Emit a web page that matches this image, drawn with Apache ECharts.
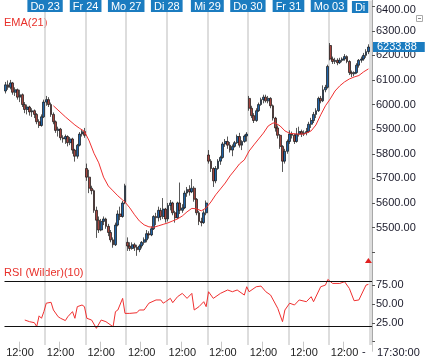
<!DOCTYPE html>
<html><head><meta charset="utf-8">
<script src="https://cdn.jsdelivr.net/npm/echarts@6/dist/echarts.min.js"></script>
<style>html,body{margin:0;padding:0;background:#fff}#c{width:425px;height:359px}</style>
</head><body><div id="c"></div>
<script>
const dayLabels = ['Mi 22','Do 23','Fr 24','Mo 27','Di 28','Mi 29','Do 30','Fr 31','Mo 03','Di'];
const barTimes = ['09:00','09:30','10:00','10:30','11:00','11:30','12:00','12:30','13:00','13:30','14:00','14:30','15:00','15:30','16:00','16:30','17:00'];
const priceTicks = [5400,5500,5600,5700,5800,5900,6000,6100,6200,6300,6400];
const priceLabels = [5500,5600,5700,5800,5900,6000,6100,6200,6300,6400];
const rsiTicks = [0,25,50,75];
const rsiLabels = [25,50,75];
const rsiBands = [80,20];
const lastPrice = 6233.88;
const lastTime = '17:30:00';

// [open, close, low, high]
const ohlc = [
 [6055,6080,6045,6092],[6080,6070,6060,6098],[6070,6088,6062,6100],[6088,6050,6040,6092],[6050,6060,6035,6070],
 [6060,6030,6020,6065],[6030,6040,6010,6060],[6040,6000,5990,6045],[6000,5980,5965,6010],[5980,5990,5960,6000],
 [5990,5970,5955,5995],[5970,5975,5950,5985],[5975,5960,5945,5980],[5960,5930,5920,5965],[5930,5915,5905,5940],
 [5915,5950,5910,5960],[5950,6010,5945,6020],
 [6010,6020,5995,6035],[6020,6000,5990,6030],[6000,5960,5950,6008],[5960,5930,5920,5968],[5930,5895,5885,5935],
 [5895,5900,5870,5910],[5900,5865,5855,5905],[5865,5860,5845,5875],[5860,5870,5840,5878],[5870,5845,5830,5875],
 [5845,5860,5835,5868],[5860,5815,5800,5865],[5815,5790,5768,5820],[5790,5835,5780,5840],[5835,5880,5830,5888],
 [5880,5890,5870,5898],[5890,5875,5865,5905],
 [5740,5705,5690,5760],[5705,5660,5640,5735],[5660,5650,5635,5670],[5650,5570,5560,5655],[5570,5530,5458,5585],
 [5530,5490,5478,5545],[5490,5525,5485,5535],[5525,5535,5510,5545],[5535,5505,5495,5540],[5505,5480,5465,5515],
 [5480,5450,5440,5490],[5450,5430,5418,5460],[5430,5510,5425,5520],[5510,5555,5505,5570],[5555,5545,5530,5585],
 [5545,5600,5540,5608],[5600,5670,5595,5678],
 [5440,5425,5405,5460],[5425,5415,5405,5440],[5415,5430,5410,5440],[5430,5420,5405,5438],[5420,5410,5385,5430],
 [5410,5425,5400,5432],[5425,5440,5415,5445],[5440,5450,5430,5460],[5450,5475,5440,5490],[5475,5470,5455,5485],
 [5470,5495,5465,5505],[5495,5545,5490,5550],[5545,5540,5510,5560],[5540,5570,5525,5585],[5570,5545,5530,5580],
 [5545,5575,5535,5620],[5575,5535,5520,5580],
 [5535,5590,5525,5600],[5590,5600,5570,5612],[5600,5560,5550,5605],[5560,5540,5520,5568],[5540,5600,5535,5605],
 [5600,5570,5555,5683],[5570,5580,5560,5595],[5580,5640,5575,5650],[5640,5655,5625,5665],[5655,5645,5630,5672],
 [5645,5660,5640,5697],[5660,5615,5605,5668],[5615,5560,5550,5620],[5560,5525,5510,5568],[5525,5520,5505,5540],
 [5520,5560,5515,5570],[5560,5600,5550,5610],
 [5795,5770,5760,5815],[5770,5740,5726,5778],[5740,5690,5665,5745],[5690,5740,5680,5750],[5740,5770,5735,5778],
 [5770,5785,5755,5792],[5785,5840,5780,5848],[5840,5850,5828,5860],[5850,5835,5820,5870],[5835,5815,5805,5848],
 [5815,5830,5790,5838],[5830,5845,5825,5852],[5845,5870,5840,5878],[5870,5835,5825,5885],[5835,5850,5815,5855],
 [5850,5872,5845,5878],[5872,5880,5850,5888],
 [6025,5985,5975,6035],[5985,5955,5945,5995],[5955,5935,5925,5965],[5935,5975,5930,5985],[5975,6000,5970,6008],
 [6000,6020,5995,6028],[6020,6030,6005,6040],[6030,6015,6008,6040],[6015,6025,6005,6035],[6025,5995,5985,6030],
 [5995,5945,5935,6000],[5945,5905,5890,5950],[5905,5875,5862,5915],[5875,5830,5820,5880],[5830,5770,5726,5835],
 [5770,5810,5760,5820],[5810,5850,5800,5858],
 [5850,5880,5840,5895],[5880,5875,5862,5890],[5875,5850,5840,5882],[5850,5880,5845,5905],[5880,5890,5870,5910],
 [5890,5880,5868,5898],[5880,5885,5872,5895],[5885,5890,5875,5905],[5890,5920,5885,5930],[5920,5935,5905,5946],
 [5935,5960,5925,5970],[5960,5975,5945,5985],[5975,6025,5970,6032],[6025,6015,6005,6035],[6015,6060,6010,6078],
 [6060,6070,6050,6080],[6070,6155,6065,6162],
 [6240,6185,6180,6250],[6185,6175,6165,6195],[6175,6180,6165,6190],[6180,6170,6160,6188],[6170,6180,6165,6190],
 [6180,6185,6172,6192],[6185,6195,6178,6205],[6195,6175,6168,6200],[6175,6130,6120,6180],[6130,6125,6112,6138],
 [6125,6130,6115,6135],[6130,6160,6125,6168],[6160,6180,6150,6185],[6180,6185,6170,6195],[6185,6200,6178,6210],
 [6200,6215,6190,6225],[6215,6233.88,6205,6245]
];

// [bar index, EMA(21)]
const ema = [
 [20,5995],[25,5950],[29,5917],[31,5903],[33,5891],[35,5852],[37,5802],[39,5763],[41,5705],[43,5669],
 [45,5649],[47,5629],[49,5612],[50,5604],[52,5580],[54,5552],[56,5527],[58,5511],[60,5503],[62,5501],
 [64,5507],[66,5513],[68,5519],[70,5527],[72,5535],[74,5547],[76,5564],[78,5578],[80,5576],[82,5568],
 [84,5580],[86,5604],[88,5633],[90,5657],[92,5681],[94,5710],[96,5734],[98,5759],[100,5775],[102,5811],
 [104,5836],[106,5860],[108,5884],[110,5913],[112,5925],[113,5925],[115,5913],[117,5893],[119,5883],[122,5880],
 [125,5880],[128,5893],[130,5917],[132,5958],[134,5995],[136,6023],[138,6055],[140,6076],[142,6092],[144,6104],
 [146,6112],[148,6118],[150,6133],[152,6145]
];

// [bar index, RSI (Wilder)(10)]
const rsi = [
 [8,28.7],[10,26.5],[12,25.2],[13,20],[14,34.2],[15,31],[16,39.8],[17,51],[19,52.2],[20,42],
 [22,33],[23,31],[25,28],[26,33],[28,39.8],[29,31],[30,46.4],[32,48.6],[33,46.4],[34,31],
 [36,28.7],[38,17.7],[40,28.7],[42,26.5],[45,19.8],[46,39.8],[47,42],[49,57.4],[50,37.5],[52,37.5],
 [55,38.4],[56,42],[58,42],[60,51],[63,55.3],[65,55.3],[66,51],[67,53],[69,57.4],[70,51.7],
 [72,59.6],[74,64],[76,57.4],[78,64],[79,42],[81,46.4],[83,53],[84,46.4],[85,66.2],[87,57.4],
 [90,64],[93,68.5],[95,66.2],[97,68.5],[100,61.8],[101,72.8],[102,66.2],[105,72.8],[107,73.7],[109,66.2],
 [111,61.8],[114,44.2],[116,26.5],[117,42],[119,51],[121,48.6],[123,55.3],[126,53],[128,59.6],[129,53],
 [132,72.8],[134,75],[135,82.5],[137,77.2],[140,77.2],[142,79.5],[144,70.6],[146,54.3],[148,55.3],[150,68.5],
 [151,75],[152,76]
];

const categories = [];
dayLabels.forEach((d, i) => {
  const n = i === dayLabels.length - 1 ? 1 : barTimes.length;
  for (let k = 0; k < n; k++) categories.push(d + ' ' + barTimes[k]);
});
const perDay = barTimes.length;
const FONT = 'Arial, "Liberation Sans", sans-serif';
const BLUE = '#1b7cc0';
const L = 4.5, R = 53;

const chart = echarts.init(document.getElementById('c'), null, {renderer: 'canvas'});
chart.setOption({
  animation: false,
  backgroundColor: '#fff',
  textStyle: {fontFamily: FONT},
  grid: [
    {left: L, right: R, top: 0, height: 345},
    {left: L, right: R, top: 0, height: 262},
    {left: L, right: R, top: 262, height: 83}
  ],
  xAxis: [
    {type: 'category', gridIndex: 0, data: categories, boundaryGap: true,
     axisLine: {show: false}, axisTick: {show: false}, axisLabel: {show: false},
     splitLine: {show: true, interval: (i) => i > 0 && i % perDay === 0,
       lineStyle: {color: '#d2d2d2', width: 1.5}}},
    {type: 'value', gridIndex: 0, position: 'top', min: 0, max: categories.length, interval: perDay,
     axisLine: {show: false}, axisTick: {show: false}, splitLine: {show: false},
     axisLabel: {inside: true, margin: 1, fontSize: 11, fontFamily: FONT,
       formatter: (v) => {
         if (v === 0 || v % perDay !== 0) return '';
         const d = v / perDay;
         if (d === dayLabels.length - 1) return '{b|' + dayLabels[d] + '}{s| }';
         return '{b|' + dayLabels[d] + '}';
       },
       rich: {
         b: {backgroundColor: BLUE, color: '#fff', fontSize: 11, fontFamily: FONT, padding: [1, 3, 0, 3], lineHeight: 9},
         s: {width: 19, fontSize: 11}
       }}},
    {type: 'category', gridIndex: 1, data: categories, boundaryGap: true, show: false},
    {type: 'category', gridIndex: 2, data: categories, boundaryGap: true,
     axisLine: {show: false},
     axisTick: {show: true, length: 10, interval: (i, v) => v.endsWith(' 12:00'),
       lineStyle: {color: '#c8c8c8', width: 1}},
     axisLabel: {interval: (i, v) => v.endsWith(' 12:00'), margin: 2, fontSize: 11, color: '#222', fontFamily: FONT,
       formatter: (v) => v.split(' ')[2]},
     splitLine: {show: false}}
  ],
  yAxis: [
    {type: 'value', gridIndex: 0, min: 0, max: 1, show: false},
    {type: 'value', gridIndex: 1, position: 'right', min: 5360, max: 6425, scale: true,
     axisLine: {show: true, lineStyle: {color: '#a8a8a8'}},
     axisTick: {show: true, length: 3, customValues: priceTicks, lineStyle: {color: '#555'}},
     axisLabel: {customValues: priceLabels, margin: 4, fontSize: 11, color: '#1a1a2a', fontFamily: FONT,
       formatter: (v) => v === priceLabels[priceLabels.length - 1] ? '{t|' + v.toFixed(2) + '}' : v.toFixed(2),
       rich: {t: {padding: [8, 0, 0, 0], fontSize: 11, color: '#1a1a2a', fontFamily: FONT}}},
     splitLine: {show: false}},
    {type: 'value', gridIndex: 2, position: 'right', min: -4.4, max: 105.6,
     axisLine: {show: true, lineStyle: {color: '#a8a8a8'}},
     axisTick: {show: true, length: 3, customValues: rsiTicks, lineStyle: {color: '#555'}},
     axisLabel: {customValues: rsiLabels, margin: 4, fontSize: 11, color: '#1a1a2a', fontFamily: FONT,
       formatter: (v) => v.toFixed(2)},
     splitLine: {show: false}}
  ],
  series: [
    {type: 'candlestick', xAxisIndex: 2, yAxisIndex: 1, data: ohlc, barWidth: 2.3,
     itemStyle: {color: '#1f64a8', color0: '#a5443e', borderColor: '#111', borderColor0: '#111', borderWidth: 0.7},
     markLine: {silent: true, symbol: 'none', animation: false,
       lineStyle: {color: 'rgba(0,0,0,0)', width: 0},
       data: [{yAxis: lastPrice}],
       label: {show: true, position: 'end', distance: 1, formatter: lastPrice.toFixed(2),
         backgroundColor: BLUE, color: '#fff', fontSize: 11, fontFamily: FONT, lineHeight: 9, padding: [1, 8, 0, 4]}},
     markPoint: {silent: true, animation: false, symbol: 'triangle', symbolSize: [7, 5],
       itemStyle: {color: '#e02020'}, label: {show: false},
       data: [{coord: [ohlc.length - 1, 5366]}]}},
    {type: 'line', name: 'EMA(21)', xAxisIndex: 2, yAxisIndex: 1, data: ema, showSymbol: false, symbol: 'none',
     lineStyle: {color: '#f03030', width: 1}},
    {type: 'line', name: 'RSI', xAxisIndex: 3, yAxisIndex: 2, data: rsi, showSymbol: false, symbol: 'none',
     lineStyle: {color: '#f03030', width: 1},
     markLine: {silent: true, symbol: 'none', animation: false, label: {show: false},
       lineStyle: {color: '#111', type: 'solid', width: 1},
       data: rsiBands.map(v => ({yAxis: v}))}}
  ],
  graphic: [
    {type: 'text', left: 4, top: 17, style: {text: 'EMA(21)', fill: '#e8302a', font: '11px ' + FONT}},
    {type: 'text', left: 4, top: 267, style: {text: 'RSI (Wilder)(10)', fill: '#e8302a', font: '11px ' + FONT}},
    {type: 'text', left: 377, top: 347, style: {text: lastTime, fill: '#1a1a2a', font: '11px ' + FONT}},
    {type: 'text', left: 362, top: 346, style: {text: '-', fill: '#1a1a2a', font: '11px ' + FONT}},
    {type: 'rect', shape: {x: 416.5, y: 15.5, width: 6, height: 6}, style: {fill: '#fff', stroke: '#aaa', lineWidth: 1}},
    {type: 'line', shape: {x1: 418, y1: 18.5, x2: 421, y2: 18.5}, style: {stroke: '#888', lineWidth: 1}}
  ]
});
</script></body></html>
